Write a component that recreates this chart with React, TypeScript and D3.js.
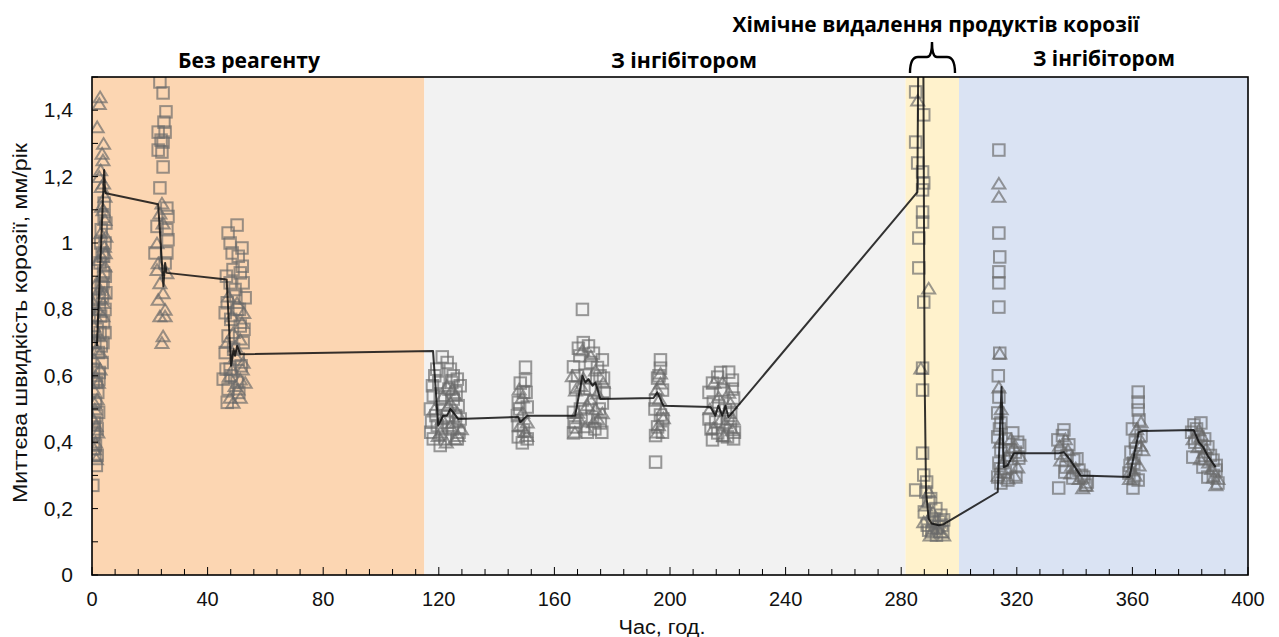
import React from 'react';
import * as d3 from 'd3';

// observation bands (hours)
const bands = [
  { from: 0, to: 115, color: '#fcd6b2' },
  { from: 115, to: 281.5, color: '#f2f2f2' },
  { from: 281.5, to: 300, color: '#fff2cc' },
  { from: 300, to: 400, color: '#dae3f3' },
];

const xTicks = [0, 40, 80, 120, 160, 200, 240, 280, 320, 360, 400];
const yTicks = [0, 0.2, 0.4, 0.6, 0.8, 1, 1.2, 1.4];

// squares series (hour, mm/year)
const noReagentSquares = [
  [4.2, 1.08], [3.2, 1.04], [4.5, 1.0], [3.5, 0.97], [2.8, 0.94], [4.0, 0.91], [3.2, 0.87], [4.8, 0.85],
  [2.5, 0.83], [4.5, 0.8], [3.0, 0.78], [4.0, 0.76], [2.8, 0.73], [3.8, 0.7], [2.2, 0.67], [3.5, 0.64],
  [2.5, 0.61], [1.5, 0.58], [2.0, 0.55], [1.2, 0.52], [2.3, 0.49], [0.8, 0.46], [1.8, 0.44], [0.6, 0.42],
  [1.2, 0.39], [1.8, 0.36], [1.5, 0.33], [0.3, 0.27],
  [0.5, 0.62], [1.0, 0.7], [1.8, 0.74], [2.6, 0.8], [3.6, 0.84], [4.6, 0.9], [4.0, 0.96], [3.0, 1.0],
  [4.8, 1.06], [4.2, 1.12], [0.4, 0.58], [1.6, 0.48], [0.9, 0.43], [2.4, 0.59], [3.2, 0.69], [4.5, 0.73],
  [1.0, 0.36], [0.5, 0.38], [3.8, 0.88],
  [23.5, 1.485], [24.6, 1.452], [25.6, 1.395], [24.9, 1.364], [22.9, 1.334], [25.3, 1.334], [23.9, 1.31],
  [24.6, 1.304], [22.9, 1.28], [24.2, 1.274], [24.6, 1.229], [23.5, 1.166], [25.9, 1.105], [26.3, 1.08],
  [22.5, 1.05], [25.9, 1.04], [26.3, 1.01], [21.8, 0.97], [25.9, 0.97], [25.3, 0.94],
  [50.2, 1.054], [47.1, 1.03], [51.9, 0.985], [47.8, 1.0], [50.6, 0.96], [48.8, 0.92], [51.3, 0.91],
  [47.8, 0.88], [52.3, 0.88], [49.5, 0.86], [53.0, 0.835], [46.8, 0.82], [50.2, 0.8], [46.1, 0.79],
  [51.3, 0.75], [47.1, 0.72], [52.3, 0.7], [46.1, 0.67], [50.6, 0.65], [47.8, 0.62], [45.4, 0.59],
  [50.2, 0.58], [47.1, 0.56], [46.8, 0.52],
  [48.5, 0.97], [52.0, 0.93], [46.5, 0.9], [49.8, 0.84], [51.0, 0.8], [48.0, 0.77], [52.6, 0.74],
  [49.0, 0.68], [51.6, 0.63], [46.4, 0.62], [48.2, 0.6], [50.8, 0.55],
];
const noReagentTriangles = [
  [2.8, 1.44], [2.5, 1.42], [1.8, 1.35], [4.0, 1.3], [3.5, 1.27], [3.8, 1.25], [3.0, 1.22], [2.5, 1.2],
  [3.2, 1.17], [4.5, 1.14], [3.8, 1.1], [4.5, 1.07], [3.0, 1.03], [4.3, 0.99], [2.2, 0.95], [4.5, 0.93],
  [3.5, 0.9], [1.5, 0.88], [4.2, 0.85], [0.5, 0.82], [2.0, 0.8], [3.8, 0.78], [0.6, 0.75], [2.5, 0.72],
  [1.5, 0.68], [0.8, 0.65], [2.8, 0.62], [1.2, 0.6], [0.5, 0.56], [1.8, 0.53], [1.0, 0.5], [0.4, 0.47],
  [2.0, 0.43], [1.2, 0.4], [0.8, 0.38], [1.5, 0.35],
  [0.3, 0.7], [1.2, 0.78], [2.4, 0.86], [3.4, 0.96], [4.8, 1.02], [4.0, 1.18], [3.3, 1.11], [0.7, 0.52],
  [1.4, 0.45], [2.2, 0.58], [2.9, 0.67], [3.9, 0.82], [4.6, 0.97],
  [24.2, 1.12], [23.5, 1.09], [24.6, 1.06], [22.5, 1.0], [22.9, 0.94], [22.5, 0.92], [25.9, 0.91],
  [23.5, 0.88], [24.6, 0.85], [22.9, 0.83], [25.3, 0.8], [23.5, 0.78], [25.3, 0.78], [24.6, 0.72],
  [24.2, 0.7],
  [50.2, 0.82], [48.5, 0.78], [51.9, 0.76], [48.8, 0.73], [51.3, 0.71], [49.5, 0.69], [52.3, 0.64],
  [48.5, 0.62], [51.3, 0.59], [53.0, 0.58], [49.5, 0.57], [51.3, 0.535], [47.8, 0.535], [48.8, 0.52],
  [47.2, 0.84], [52.5, 0.79], [46.6, 0.7], [49.8, 0.66], [47.5, 0.6], [52.0, 0.62], [50.5, 0.56],
];

const inhibitorSquares = [
  [121.2, 0.657], [122.9, 0.64], [124.0, 0.62], [125.0, 0.6], [126.4, 0.59], [127.4, 0.57], [118.1, 0.54],
  [120.5, 0.53], [125.0, 0.53], [126.7, 0.51], [117.1, 0.5], [122.9, 0.48], [127.4, 0.47], [119.5, 0.45],
  [124.7, 0.44], [118.1, 0.41], [122.3, 0.41], [126.4, 0.41], [120.5, 0.39], [118.6, 0.6], [120.0, 0.58],
  [117.5, 0.46], [125.8, 0.48], [121.8, 0.5],
  [119.3, 0.62], [123.5, 0.56], [117.8, 0.57], [126.0, 0.55], [121.0, 0.44], [127.0, 0.43], [119.0, 0.48],
  [123.0, 0.46], [124.5, 0.58], [117.2, 0.43],
  [150.0, 0.626], [150.0, 0.587], [148.2, 0.578], [149.3, 0.55], [147.5, 0.52], [150.6, 0.506],
  [147.2, 0.48], [149.3, 0.437], [147.5, 0.416], [148.9, 0.398], [150.6, 0.41],
  [148.0, 0.5], [150.2, 0.55], [147.5, 0.45],
  [169.7, 0.8], [170.0, 0.7], [171.8, 0.69], [168.3, 0.683], [173.5, 0.668], [176.6, 0.648], [166.6, 0.627],
  [174.9, 0.625], [170.7, 0.602], [177.0, 0.593], [167.3, 0.566], [174.2, 0.557], [169.7, 0.527],
  [176.6, 0.518], [166.6, 0.49], [173.2, 0.476], [175.9, 0.458], [167.3, 0.446], [171.4, 0.43],
  [166.6, 0.428], [172.5, 0.64], [168.0, 0.6], [175.5, 0.5],
  [168.8, 0.66], [175.8, 0.6], [172.3, 0.56], [169.0, 0.5], [177.2, 0.55], [171.0, 0.47], [174.0, 0.44],
  [166.8, 0.46], [176.4, 0.43],
  [196.7, 0.648], [196.7, 0.623], [195.7, 0.593], [197.4, 0.557], [195.0, 0.527], [196.7, 0.482],
  [195.7, 0.446], [197.4, 0.43], [195.0, 0.42], [195.0, 0.34],
  [196.2, 0.6], [194.8, 0.5], [197.5, 0.47],
  [220.3, 0.611], [216.5, 0.596], [221.6, 0.587], [214.7, 0.578], [218.5, 0.557], [222.0, 0.533],
  [215.0, 0.521], [219.2, 0.497], [215.8, 0.461], [220.9, 0.446], [216.5, 0.428], [219.9, 0.416],
  [214.7, 0.407], [222.0, 0.41], [213.5, 0.47], [221.0, 0.49],
  [217.5, 0.61], [213.5, 0.55], [221.5, 0.56], [216.8, 0.51], [220.0, 0.47], [214.2, 0.44], [222.3, 0.43],
  [218.2, 0.42],
];
const inhibitorTriangles = [
  [124.7, 0.56], [125.7, 0.54], [123.3, 0.51], [126.4, 0.49], [121.2, 0.47], [124.0, 0.45], [126.7, 0.42],
  [119.8, 0.42], [122.6, 0.4], [127.8, 0.44],
  [118.5, 0.5], [121.5, 0.54], [124.0, 0.52], [126.0, 0.46], [120.5, 0.43], [122.8, 0.57], [125.5, 0.41],
  [148.9, 0.536], [150.6, 0.46], [148.2, 0.452], [150.0, 0.432],
  [149.0, 0.49], [147.8, 0.56], [150.4, 0.42],
  [169.7, 0.678], [174.2, 0.617], [170.0, 0.593], [167.3, 0.557], [174.9, 0.548], [171.4, 0.512],
  [176.6, 0.488], [168.3, 0.473], [173.5, 0.461], [170.7, 0.446],
  [172.6, 0.66], [166.2, 0.6], [169.2, 0.57], [176.9, 0.58], [172.4, 0.53], [168.0, 0.49], [175.0, 0.47],
  [167.1, 0.43], [174.3, 0.5],
  [196.7, 0.608], [196.7, 0.578], [197.4, 0.497], [197.7, 0.473], [196.0, 0.452],
  [195.4, 0.56], [196.3, 0.53], [195.6, 0.43],
  [218.2, 0.581], [220.9, 0.518], [216.8, 0.536], [219.2, 0.458], [221.6, 0.437], [215.0, 0.443],
  [213.8, 0.5], [221.8, 0.47], [217.6, 0.47], [215.2, 0.58], [220.3, 0.55], [218.6, 0.42],
];

const removalSquares = [
  [285.0, 1.455], [287.8, 1.386], [285.0, 1.304], [285.7, 1.241], [287.4, 1.214], [287.8, 1.181],
  [287.4, 1.16], [287.4, 1.093], [287.4, 1.063], [286.1, 1.015], [286.1, 0.925], [287.8, 0.822],
  [287.4, 0.623], [287.4, 0.557], [287.4, 0.367], [287.8, 0.301], [285.0, 0.256], [288.5, 0.25],
  [289.5, 0.22], [292.0, 0.2], [293.7, 0.18], [294.7, 0.166], [290.9, 0.16], [292.6, 0.145],
  [289.5, 0.135], [294.4, 0.13],
  [288.8, 0.28], [290.2, 0.23], [291.5, 0.17], [293.2, 0.16], [289.0, 0.15], [290.6, 0.13], [292.2, 0.12],
  [294.0, 0.15], [288.0, 0.19],
];
const removalTriangles = [
  [285.7, 1.43], [289.5, 0.864], [286.8, 0.623], [287.8, 0.16], [290.9, 0.19], [294.7, 0.12],
  [292.6, 0.14], [288.5, 0.21], [289.6, 0.25], [291.0, 0.14], [293.6, 0.13], [290.0, 0.12],
];

const inhibitor2Squares = [
  [313.8, 1.28], [313.8, 1.03], [314.1, 0.958], [313.8, 0.913], [313.8, 0.88], [313.8, 0.807],
  [314.1, 0.668], [313.8, 0.536], [313.4, 0.488], [314.5, 0.458], [313.4, 0.416], [314.5, 0.377],
  [313.8, 0.337], [313.4, 0.295], [314.5, 0.277], [318.6, 0.428], [320.3, 0.4], [317.2, 0.377],
  [320.7, 0.352], [317.9, 0.325], [319.7, 0.295], [316.9, 0.286],
  [313.6, 0.6], [314.0, 0.44], [314.4, 0.32], [316.2, 0.41], [319.5, 0.37], [318.0, 0.35], [321.0, 0.39],
  [316.0, 0.31],
  [336.3, 0.437], [334.2, 0.407], [338.0, 0.392], [335.2, 0.367], [339.7, 0.346], [337.0, 0.325],
  [341.5, 0.316], [343.2, 0.295], [339.4, 0.292], [334.5, 0.262], [343.9, 0.271],
  [335.8, 0.42], [340.8, 0.35], [337.4, 0.36], [342.4, 0.3], [344.4, 0.28], [336.6, 0.31],
  [362.0, 0.551], [362.0, 0.521], [362.0, 0.497], [362.3, 0.467], [359.5, 0.37], [360.5, 0.337],
  [358.8, 0.307], [360.2, 0.262], [362.0, 0.286], [361.0, 0.4],
  [360.0, 0.44], [361.2, 0.38], [359.2, 0.33], [363.0, 0.42], [360.5, 0.29],
  [381.3, 0.452], [383.7, 0.458], [382.7, 0.416], [386.1, 0.386], [380.9, 0.355], [387.9, 0.346],
  [384.4, 0.325], [388.9, 0.316], [386.1, 0.295], [389.6, 0.277],
  [380.5, 0.43], [382.2, 0.44], [385.0, 0.41], [383.8, 0.39], [387.0, 0.36], [389.0, 0.33], [385.2, 0.35],
  [388.0, 0.3], [381.6, 0.4],
];
const inhibitor2Triangles = [
  [313.8, 1.18], [313.8, 1.14], [314.1, 0.668], [313.8, 0.566], [319.0, 0.386], [320.3, 0.325],
  [316.9, 0.292], [315.2, 0.337],
  [314.6, 0.5], [314.2, 0.4], [313.5, 0.3], [318.0, 0.41], [321.0, 0.36], [316.5, 0.36], [319.2, 0.3],
  [337.7, 0.377], [335.2, 0.346], [340.4, 0.322], [342.8, 0.262], [338.7, 0.307],
  [336.8, 0.41], [339.0, 0.33], [341.6, 0.29], [344.0, 0.27], [334.8, 0.39],
  [363.0, 0.461], [362.3, 0.416], [363.6, 0.377], [360.5, 0.352], [359.5, 0.316], [362.3, 0.331],
  [361.5, 0.44], [362.8, 0.39], [360.2, 0.35], [359.0, 0.29], [361.0, 0.3],
  [383.0, 0.437], [384.7, 0.37], [386.4, 0.34], [388.1, 0.295], [388.9, 0.271], [382.7, 0.386],
  [381.0, 0.41], [384.0, 0.42], [385.5, 0.38], [387.4, 0.32], [389.6, 0.29], [383.5, 0.35],
];

// averaged trend line
const trendLine = [
  [1.7, 0.69], [4.2, 1.22], [4.5, 1.16], [4.8, 1.15], [22.9, 1.117], [24.7, 0.87], [25.3, 0.94],
  [25.8, 0.91], [46.6, 0.89], [48.1, 0.63], [49.0, 0.68], [49.5, 0.66], [50.2, 0.69], [51.3, 0.665],
  [118.0, 0.675], [119.8, 0.45], [121.5, 0.48], [122.8, 0.48], [124.0, 0.5], [125.0, 0.49],
  [126.7, 0.47], [147.5, 0.476], [148.2, 0.46], [150.6, 0.48], [167.2, 0.48], [169.7, 0.6],
  [170.7, 0.58], [171.8, 0.59], [173.2, 0.57], [174.2, 0.58], [175.9, 0.53], [194.3, 0.533],
  [195.6, 0.55], [197.7, 0.51], [214.0, 0.506], [215.7, 0.48], [216.7, 0.51], [218.1, 0.48],
  [219.2, 0.51], [220.2, 0.476], [221.6, 0.49], [285.6, 1.153], [286.0, 1.7], [287.6, 1.7],
  [288.1, 0.6], [288.6, 0.25], [289.5, 0.17], [290.5, 0.155], [293.0, 0.15], [294.7, 0.153],
  [313.4, 0.25], [314.7, 0.566], [315.5, 0.325], [316.8, 0.33], [319.0, 0.367], [334.5, 0.367],
  [336.3, 0.37], [338.6, 0.345], [342.0, 0.3], [359.0, 0.295], [362.2, 0.43], [363.6, 0.434],
  [381.2, 0.437], [383.0, 0.4], [384.5, 0.385], [386.0, 0.36], [388.8, 0.325],
];

const squares = [...noReagentSquares, ...inhibitorSquares, ...removalSquares, ...inhibitor2Squares];
const triangles = [...noReagentTriangles, ...inhibitorTriangles, ...removalTriangles, ...inhibitor2Triangles];

export default function App() {
  const width = 1279;
  const height = 637;
  const margin = { top: 77, right: 31, bottom: 62, left: 92 };
  const innerW = width - margin.left - margin.right;
  const innerH = height - margin.top - margin.bottom;

  const x = d3.scaleLinear().domain([0, 400]).range([0, innerW]);
  const y = d3.scaleLinear().domain([0, 1.5]).range([innerH, 0]);

  const line = d3
    .line<number[]>()
    .x((d) => x(d[0]))
    .y((d) => y(d[1]));

  const minorX = d3.range(0, 401, 8);
  const minorY = d3.range(0, 1.51, 0.1);
  const fmt = (v: number) => String(Math.round(v * 10) / 10).replace('.', ',');

  const markerStroke = '#6a6a6a';
  const sq = 11.5;
  const tri = 13;

  const headFont = '"Open Sans", "Liberation Sans", sans-serif';
  const axisFont = '"Liberation Sans", Arial, sans-serif';

  return (
    <svg width={width} height={height} style={{ position: 'absolute', left: 0, top: 0, background: '#fff' }}>
      <defs>
        <clipPath id="plot">
          <rect x={0} y={0} width={innerW} height={innerH} />
        </clipPath>
      </defs>

      <g transform={`translate(${margin.left},${margin.top})`}>
        {bands.map((b) => (
          <rect key={b.from} x={x(b.from)} y={0} width={x(b.to) - x(b.from)} height={innerH} fill={b.color} />
        ))}

        <g clipPath="url(#plot)" fill="none" stroke={markerStroke} strokeOpacity={0.68} strokeWidth={2}>
          {squares.map((d, i) => (
            <rect key={'s' + i} x={x(d[0]) - sq / 2} y={y(d[1]) - sq / 2} width={sq} height={sq} />
          ))}
          {triangles.map((d, i) => {
            const cx = x(d[0]);
            const cy = y(d[1]);
            const h = tri * 0.82;
            return (
              <path
                key={'t' + i}
                d={`M${cx},${cy - h / 2}L${cx + tri / 2},${cy + h / 2}L${cx - tri / 2},${cy + h / 2}Z`}
              />
            );
          })}
        </g>

        <path
          d={line(trendLine) ?? ''}
          clipPath="url(#plot)"
          fill="none"
          stroke="#111"
          strokeOpacity={0.85}
          strokeWidth={2}
          strokeLinejoin="round"
        />

        {/* frame */}
        <rect x={0} y={0} width={innerW} height={innerH} fill="none" stroke="#000" strokeWidth={1.6} />

        {/* ticks (inward) */}
        {minorX.map((t) => (
          <line key={'xt' + t} x1={x(t)} x2={x(t)} y1={innerH} y2={innerH - (t % 40 === 0 ? 8 : 6)} stroke="#000" strokeWidth={1} />
        ))}
        {minorY.map((t) => (
          <line key={'yt' + t} x1={0} x2={6} y1={y(t)} y2={y(t)} stroke="#000" strokeWidth={1} />
        ))}

        {xTicks.map((t) => (
          <text key={'xl' + t} x={x(t)} y={innerH + 31} textAnchor="middle" fontFamily={axisFont} fontSize={20} fill="#111">
            {t}
          </text>
        ))}
        {yTicks.map((t) => (
          <text key={'yl' + t} x={-19} y={y(t) + 7} textAnchor="end" fontFamily={axisFont} fontSize={21} fill="#111">
            {fmt(t)}
          </text>
        ))}
      </g>

      <text x={662} y={634} textAnchor="middle" fontFamily={axisFont} fontSize={20} fill="#111" textLength={87} lengthAdjust="spacingAndGlyphs">
        Час, год.
      </text>
      <text
        transform="translate(27,323) rotate(-90)"
        textAnchor="middle"
        fontFamily={axisFont}
        fontSize={20}
        fill="#111"
        textLength={360}
        lengthAdjust="spacingAndGlyphs"
      >
        Миттєва швидкість корозії, мм/рік
      </text>

      {/* section headers */}
      <g fontFamily={headFont} fontWeight={700} fontSize={22} fill="#000">
        <text x={249} y={68} textAnchor="middle" textLength={142} lengthAdjust="spacingAndGlyphs">Без реагенту</text>
        <text x={684} y={68} textAnchor="middle" textLength={146} lengthAdjust="spacingAndGlyphs">З інгібітором</text>
        <text x={1104} y={66} textAnchor="middle" textLength={142} lengthAdjust="spacingAndGlyphs">З інгібітором</text>
        <text x={936} y={32} textAnchor="middle" textLength={407} lengthAdjust="spacingAndGlyphs">
          Хімічне видалення продуктів корозії
        </text>
      </g>
      <path
        d="M910,73 Q910,57 918,57 L927,57 Q932,57 932,42 Q932,57 937,57 L947,57 Q955,57 955,73"
        fill="none"
        stroke="#000"
        strokeWidth={2.4}
      />
    </svg>
  );
}
